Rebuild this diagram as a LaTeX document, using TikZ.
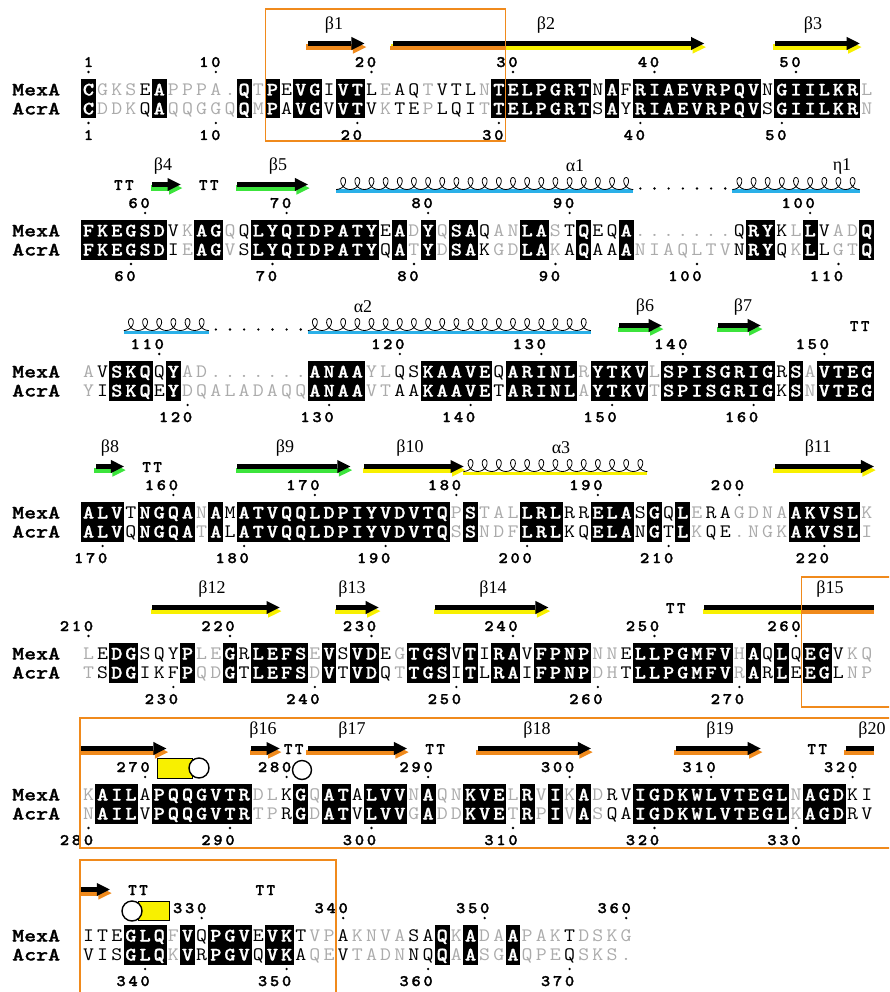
\documentclass[tikz,border=0pt]{standalone}
\usepackage{fontspec}
\usepackage{graphicx}
\usepackage{xstring}
\newfontfamily\ssfont{Liberation Serif}
\newfontfamily\numfont{lmmonolt10-bold.otf}[FakeBold=1.6]
\newfontfamily\resfont{lmmonolt10-bold.otf}[FakeBold=1.1]
\definecolor{esporange}{HTML}{F08A1C}
\definecolor{espyellow}{HTML}{F8F000}
\definecolor{espgreen}{HTML}{3CE43C}
\definecolor{espcyan}{HTML}{2AB0E8}
\definecolor{espgrey}{HTML}{ABABAB}

\tikzset{
  resid/.style={inner sep=0pt, anchor=base, font=\ttfamily\fontsize{19}{19}\selectfont},
  residb/.style={resid, font=\resfont\fontsize{19}{19}\selectfont},
  seqname/.style={inner sep=0pt, anchor=base west, font=\resfont\fontsize{19}{19}\selectfont},
  numtxt/.style={inner sep=0pt, anchor=base, font=\numfont\fontsize{16}{16}\selectfont},
  sslabel/.style={inner sep=0pt, font=\ssfont\fontsize{18}{18}\selectfont},
  boxline/.style={draw=esporange, line width=1.6pt},
}

% two aligned rows: #1 = MexA row y, #2 MexA, #3 AcrA, #4 B = boxed, K = black, G = grey
\newcommand\seqrows[4]{%
  \StrLen{#4}[\nres]%
  \foreach \i in {1,...,\nres}{%
    \StrChar{#2}{\i}[\ra]\StrChar{#3}{\i}[\rb]\StrChar{#4}{\i}[\rk]%
    \pgfmathsetmacro\cx{88.5+14.15*(\i-1)}%
    \IfStrEq{\rk}{B}{%
      \fill (\cx-7.4,#1-12) rectangle (\cx+7.4,#1+27.5);%
      \node[residb, text=white] at (\cx,#1+4.5) {\scalebox{1.12}[1]{\ra}};%
      \node[residb, text=white] at (\cx,#1+23.5) {\scalebox{1.12}[1]{\rb}};%
    }{%
      \IfStrEq{\rk}{K}{\def\rcol{black}}{\def\rcol{espgrey}}%
      \node[resid, text=\rcol] at (\cx,#1+4.5) {\scalebox{1.12}[1]{\ra}};%
      \node[resid, text=\rcol] at (\cx,#1+23.5) {\scalebox{1.12}[1]{\rb}};%
    }}}

% row names
\newcommand\seqnames[2]{%
  \node[seqname] (mexa#2) at (12,#1+4.5) {\scalebox{1.2}[1]{MexA}};
  \node[seqname] (acra#2) at (12,#1+23.5) {\scalebox{1.2}[1]{AcrA}};}

% numbering: #1 = row y, #2 = list col/number
\newcommand\mexnums[2]{%
  \foreach \cc/\nm in {#2}{%
    \pgfmathsetmacro\cx{88.5+14.15*\cc}%
    \fill (\cx,#1-19) circle (1.3);%
    \StrLen{\nm}[\ndig]%
    \foreach \k in {1,...,\ndig}{\StrChar{\nm}{\k}[\dg]%
      \node[numtxt] at ({\cx-12*(\ndig-\k)},#1-24) {\scalebox{1.1}[1]{\dg}};}}}
\newcommand\acrnums[2]{%
  \foreach \cc/\nm in {#2}{%
    \pgfmathsetmacro\cx{88.5+14.15*\cc}%
    \fill (\cx,#1+32) circle (1.3);%
    \StrLen{\nm}[\ndig]%
    \foreach \k in {1,...,\ndig}{\StrChar{\nm}{\k}[\dg]%
      \node[numtxt] at ({\cx-12*(\ndig-\k)},#1+49) {\scalebox{1.1}[1]{\dg}};}}}

% strand: row y, first col, last col, shadow colour, tip 1/0
\newcommand\strand[5]{%
  \pgfmathsetmacro\xa{81.4+14.15*#2}%
  \pgfmathsetmacro\xb{95.6+14.15*#3}%
  \pgfmathsetmacro\ya{#1-47.5}%
  \ifnum#5=1
    \fill[#4] (\xa-1.5,\ya+1) rectangle (\xb-11.5,\ya+6.2);
    \fill[#4] (\xb-11.5,\ya-3) -- (\xb+1.8,\ya+3.6) -- (\xb-11.5,\ya+10.2) -- cycle;
    \fill (\xa,\ya-2.6) rectangle (\xb-13,\ya+2.6);
    \fill (\xb-13,\ya-6.6) -- (\xb,\ya) -- (\xb-13,\ya+6.6) -- cycle;
  \else
    \fill[#4] (\xa-1.5,\ya+1) rectangle (\xb,\ya+6.2);
    \fill (\xa,\ya-2.6) rectangle (\xb,\ya+2.6);
  \fi}

% helix: row y, first col, last col, underline colour
\newcommand\helix[4]{%
  \pgfmathsetmacro\xa{81.4+14.15*#2}%
  \pgfmathsetmacro\xb{95.6+14.15*#3}%
  \pgfmathtruncatemacro\nl{#3-#2+1}%
  \pgfmathsetmacro\tend{180+360*\nl}%
  \pgfmathtruncatemacro\ns{20*\nl+1}%
  \fill[#4] (\xa,#1-42.5) rectangle (\xb,#1-39.3);
  \draw[line width=0.8pt] plot[variable=\t, domain=180:\tend, samples=\ns, smooth]
    ({\xa+(\t-180)/360*14.15-5.5*sin(\t)},{#1-54.5+6*(1-cos(\t))});}

\newcommand\gapdots[3]{%
  \foreach \cc in {#2,...,#3}{\fill ({88.5+14.15*\cc},#1-43.5) circle (1.3);}}

% turn: row y, first col
\newcommand\turn[2]{%
  \pgfmathsetmacro\cx{88.5+14.15*(#2+0.5)}%
  \node[numtxt] at (\cx-5.5,#1-42) {T};
  \node[numtxt] at (\cx+5.5,#1-42) {T};}

\begin{document}
\begin{tikzpicture}[x=1pt,y=-1pt]
  \useasboundingbox (0,0) rectangle (889,992);
  \clip (0,0) rectangle (889,992);

  % block 1
  \seqnames{91}{1}
  \seqrows{91}{CGKSEAPPPA.QTPEVGIVTLEAQTVTLNTELPGRTNAFRIAEVRPQVNGIILKRL}
              {CDDKQAQQGGQQMPAVGVVTVKTEPLQITTELPGRTSAYRIAEVRPQVSGIILKRN}
              {BGGGKBGGGGGBGBKBBKBBKGKKGKKKGBBBBBBBKBKBBBBBBBBBKBBBBBBG}
  \mexnums{91}{0/1,9/10,20/20,30/30,40/40,50/50}
  \acrnums{91}{0/1,9/10,19/20,29/30,39/40,49/50}
  \strand{91}{16}{19}{esporange}{1}
  \strand{91}{22}{43}{espyellow}{1}
  \fill[esporange] (390.2,46.1) rectangle (505.5,49.7);
  \strand{91}{49}{54}{espyellow}{1}
  \node[sslabel] (b1) at (334,25) {β1};
  \node[sslabel] (b2) at (546,25) {β2};
  \node[sslabel] (b3) at (813,25) {β3};

  % block 2
  \seqnames{232}{2}
  \seqrows{232}{FKEGSDVKAGQQLYQIDPATYEADYQSAQANLASTQEQA.......QRYKLLVADQ}
               {FKEGSDIEAGVSLYQIDPATYQATYDSAKGDLAKAQAAANIAQLTVNRYQKLLGTQ}
               {BBBBBBKGBBGKBBBBBBBBBKBGBGBBKGGBBGKBKKBGGGGGGGKBBKGBKGGB}
  \mexnums{232}{4/60,14/70,24/80,34/90,51/100}
  \acrnums{232}{3/60,13/70,23/80,33/90,43/100,53/110}
  \turn{232}{2}
  \strand{232}{5}{6}{espgreen}{1}
  \turn{232}{8}
  \strand{232}{11}{15}{espgreen}{1}
  \helix{232}{18}{38}{espcyan}
  \gapdots{232}{39}{45}
  \helix{232}{46}{54}{espcyan}
  \node[sslabel] (b4) at (163,166) {β4};
  \node[sslabel] (b5) at (278,166) {β5};
  \node[sslabel] (a1) at (575,166) {α1};
  \node[sslabel] (e1) at (842,166) {η1};

  % block 3
  \seqnames{373}{3}
  \seqrows{373}{AVSKQQYAD.......ANAAYLQSKAAVEQARINLRYTKVLSPISGRIGRSAVTEG}
               {YISKQEYDQALADAQQANAAVTAAKAAVETARINLAYTKVTSPISGRIGKSNVTEG}
               {GKBBBKBGGGGGGGGGBBBBGGKKBBBBBKBBBBBGBBBBGBBBBBBBBKBGBBBB}
  \mexnums{373}{5/110,22/120,32/130,42/140,52/150}
  \acrnums{373}{7/120,17/130,27/140,37/150,47/160}
  \helix{373}{3}{8}{espcyan}
  \gapdots{373}{9}{15}
  \helix{373}{16}{35}{espcyan}
  \strand{373}{38}{40}{espgreen}{1}
  \strand{373}{45}{47}{espgreen}{1}
  \turn{373}{54}
  \node[sslabel] (a2) at (363,307) {α2};
  \node[sslabel] (b6) at (645,307) {β6};
  \node[sslabel] (b7) at (743,307) {β7};

  % block 4
  \seqnames{514}{4}
  \seqrows{514}{ALVTNGQANAMATVQQLDPIYVDVTQPSTALLRLRRELASGQLERAGDNAAKVSLK}
               {ALVQNGQATALATVQQLDPIYVDVTQSSNDFLRLKQELANGTLKQE.NGKAKVSLI}
               {BBBKBBBBGBKBBBBBBBBBBBBBBBGBGGGBBBKKBBBKBKBGKKGGGGBBBBBG}
  \mexnums{514}{6/160,16/170,26/180,36/190,46/200}
  \acrnums{514}{1/170,11/180,21/190,31/200,41/210,52/220}
  \strand{514}{1}{2}{espgreen}{1}
  \turn{514}{4}
  \strand{514}{11}{18}{espgreen}{1}
  \strand{514}{20}{26}{espyellow}{1}
  \helix{514}{27}{39}{espyellow}
  \strand{514}{49}{55}{espyellow}{1}
  \node[sslabel] (b8) at (110,448) {β8};
  \node[sslabel] (b9) at (285,448) {β9};
  \node[sslabel] (b10) at (410,448) {β10};
  \node[sslabel] (a3) at (561,448) {α3};
  \node[sslabel] (b11) at (818,448) {β11};

  % block 5
  \seqnames{655}{5}
  \seqrows{655}{LEDGSQYPLEGRLEFSEVSVDEGTGSVTIRAVFPNPNNELLPGMFVHAQLQEGVKQ}
               {TSDGIKFPQDGTLEFSDVTVDQTTGSITLRAIFPNPDHTLLPGMFVRARLEEGLNP}
               {GKBBKKKBGGBKBBBBGBKBBKGBBBKBKBBKBBBBGGKBBBBBBBGBKBKBBKGG}
  \mexnums{655}{0/210,10/220,20/230,30/240,40/250,50/260}
  \acrnums{655}{6/230,16/240,26/250,36/260,46/270}
  \strand{655}{5}{13}{espyellow}{1}
  \strand{655}{18}{20}{espyellow}{1}
  \strand{655}{25}{32}{espyellow}{1}
  \turn{655}{41}
  \strand{655}{44}{55}{espyellow}{0}
  \fill[esporange] (802,610.1) rectangle (873.9,613.7);
  \node[sslabel] (b12) at (212,589) {β12};
  \node[sslabel] (b13) at (352,589) {β13};
  \node[sslabel] (b14) at (493,589) {β14};
  \node[sslabel] (b15) at (830,589) {β15};

  % block 6
  \seqnames{796}{6}
  \seqrows{796}{KAILAPQQGVTRDLKGQATALVVNAQNKVELRVIKADRVIGDKWLVTEGLNAGDKI}
               {NAILVPQQGVTRTPRGDATVLVVGADDKVETRPIVASQAIGDKWLVTEGLKAGDRV}
               {GBBBKBBBBBBBGGKBGBBKBBBGBGGBBBGBGBGBGKKBBBBBBBBBBBGBBBKK}
  \mexnums{796}{4/270,14/280,24/290,34/300,44/310,54/320}
  \acrnums{796}{0/280,10/290,20/300,30/310,40/320,50/330}
  \strand{796}{0}{5}{esporange}{1}
  \draw[fill=espyellow, line width=1pt] (157,758) rectangle (192,778);
  \draw[fill=white, line width=1.4pt] (199,768) circle (10);
  \strand{796}{12}{13}{esporange}{1}
  \turn{796}{14}
  \draw[fill=white, line width=1.4pt] (302,770) circle (9.5);
  \strand{796}{16}{22}{esporange}{1}
  \turn{796}{24}
  \strand{796}{28}{35}{esporange}{1}
  \strand{796}{42}{47}{esporange}{1}
  \turn{796}{51}
  \strand{796}{54}{55}{esporange}{0}
  \node[sslabel] (b16) at (263,730) {β16};
  \node[sslabel] (b17) at (352,730) {β17};
  \node[sslabel] (b18) at (537,730) {β18};
  \node[sslabel] (b19) at (720,730) {β19};
  \node[sslabel] (b20) at (872,730) {β20};

  % block 7
  \seqnames{937}{7}
  \seqrows{937}{ITEGLQFVQPGVEVKTVPAKNVASAQKADAAPAKTDSKG}
               {VISGLQKVRPGVQVKAQEVTADNNQQAASGAQPEQSKS.}
               {KKKBBBGBKBBBKBBKGGKGGGGKKBGBGGBGGGKGGGG}
  \mexnums{937}{8/330,18/340,28/350,38/360}
  \acrnums{937}{4/340,14/350,24/360,34/370}
  \strand{937}{0}{1}{esporange}{1}
  \turn{937}{3}
  \draw[fill=espyellow, line width=1pt] (138,901) rectangle (169,920);
  \draw[fill=white, line width=1.4pt] (132,911) circle (10);
  \turn{937}{12}

  % boxed regions
  \draw[boxline] (265.5,9) rectangle (505.5,141);
  \draw[boxline] (801.5,577) rectangle (900,707);
  \draw[boxline] (80,718) rectangle (900,848);
  \draw[boxline] (80,860) rectangle (336,1000);
\end{tikzpicture}
\end{document}
